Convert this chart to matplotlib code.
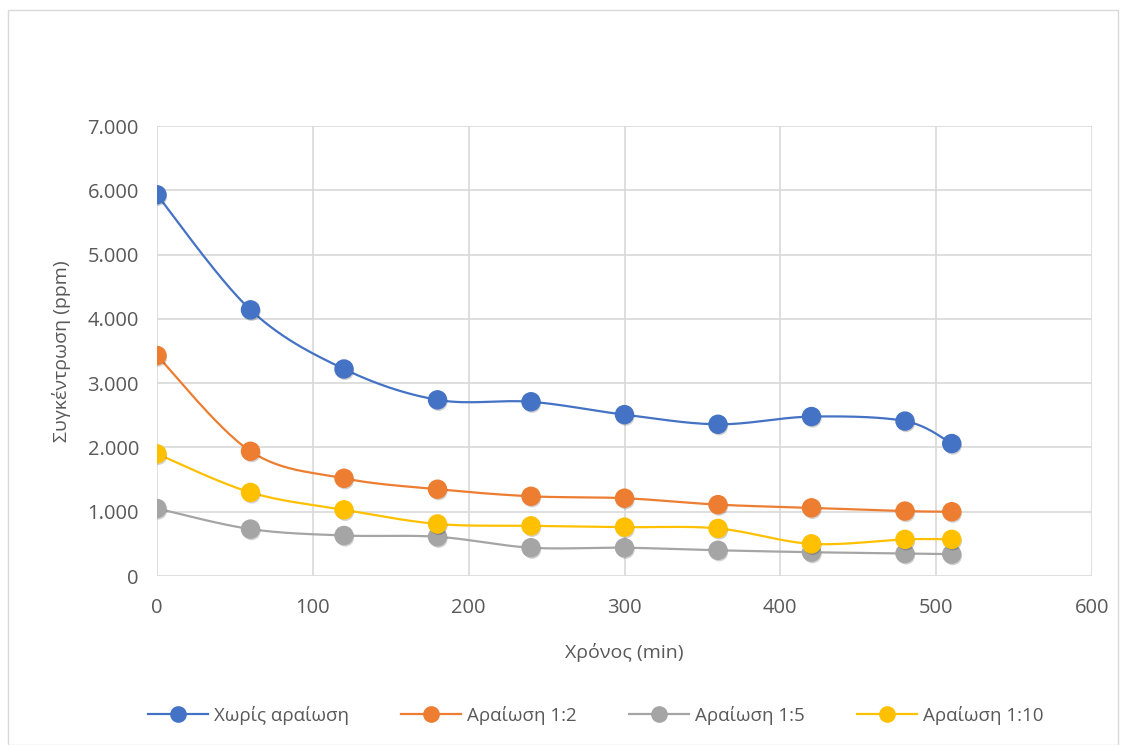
import numpy as np
import matplotlib.pyplot as plt
import matplotlib.patheffects as pe
from matplotlib.lines import Line2D
from matplotlib.ticker import FuncFormatter, MultipleLocator

plt.rcParams['font.family'] = ['Open Sans', 'DejaVu Sans']

time_min = [0, 60, 120, 180, 240, 300, 360, 420, 480, 510]
no_dilution = [5930, 4140, 3220, 2740, 2710, 2510, 2360, 2480, 2410, 2060]
dil_1_2 = [3430, 1940, 1520, 1350, 1240, 1210, 1110, 1060, 1010, 1000]
dil_1_5 = [1050, 730, 630, 610, 440, 440, 400, 370, 350, 340]
dil_1_10 = [1900, 1300, 1030, 810, 780, 760, 740, 500, 570, 570]

labels = ["Χωρίς αραίωση", "Αραίωση 1:2", "Αραίωση 1:5", "Αραίωση 1:10"]
colors = ["#4472C4", "#ED7D31", "#A5A5A5", "#FFC000"]
txt = "#595959"


def smooth(x, y, n=30):
    # Bezier curve through the points, control points like a Catmull-Rom spline
    p = np.column_stack([x, y]).astype(float)
    pts = np.vstack([p[0], p, p[-1]])
    out = []
    t = np.linspace(0, 1, n)[:, None]
    for i in range(1, len(pts) - 2):
        p0, p1, p2, p3 = pts[i - 1], pts[i], pts[i + 1], pts[i + 2]
        c1 = p1 + (p2 - p0) / 6
        c2 = p2 - (p3 - p1) / 6
        seg = ((1 - t) ** 3) * p1 + 3 * ((1 - t) ** 2) * t * c1 \
            + 3 * (1 - t) * t ** 2 * c2 + t ** 3 * p2
        out.append(seg if i == 1 else seg[1:])
    out = np.vstack(out)
    return out[:, 0], out[:, 1]


fig = plt.figure(figsize=(11.24, 7.45), dpi=100)
ax = fig.add_axes([157 / 1124, 169 / 745, 935 / 1124, 450 / 745])

shadow = [pe.SimplePatchShadow(offset=(0.8, -1.5), alpha=0.18, shadow_rgbFace='black'), pe.Normal()]

for series, col in zip([no_dilution, dil_1_2, dil_1_5, dil_1_10], colors):
    sx, sy = smooth(time_min, series)
    ax.plot(sx, sy, color=col, lw=1.6, zorder=3)
    ax.plot(time_min, series, 'o', color=col, ms=13, mec=col, zorder=4,
            path_effects=shadow)

ax.set_xlim(0, 600)
ax.set_ylim(0, 7000)
ax.xaxis.set_major_locator(MultipleLocator(100))
ax.yaxis.set_major_locator(MultipleLocator(1000))
ax.yaxis.set_major_formatter(FuncFormatter(lambda v, p: f"{int(v):,}".replace(",", ".")))
ax.grid(True, color="#d9d9d9", lw=1.2)
ax.set_axisbelow(True)
for s in ax.spines.values():
    s.set_visible(False)
ax.tick_params(length=0, labelsize=14.5, labelcolor=txt)
ax.tick_params(axis='x', pad=16)
ax.tick_params(axis='y', pad=13)

ax.set_xlabel("Χρόνος (min)", fontsize=14, color=txt, labelpad=18)
ax.set_ylabel("Συγκέντρωση (ppm)", fontsize=14, color=txt, labelpad=12)

handles = [Line2D([], [], color=c, lw=1.6, marker='o', ms=11) for c in colors]
fig.legend(handles, labels, loc='center', bbox_to_anchor=(0.53, 0.04), ncol=4,
           frameon=False, fontsize=13.5, labelcolor=txt, handlelength=3.2,
           columnspacing=2.8, handletextpad=0.3)

fig.patches.append(plt.Rectangle((8 / 1124, 0), 1110 / 1124, 735 / 745,
                                 transform=fig.transFigure, fill=False,
                                 edgecolor="#d9d9d9", lw=1))

plt.savefig("out.png", dpi=100)
